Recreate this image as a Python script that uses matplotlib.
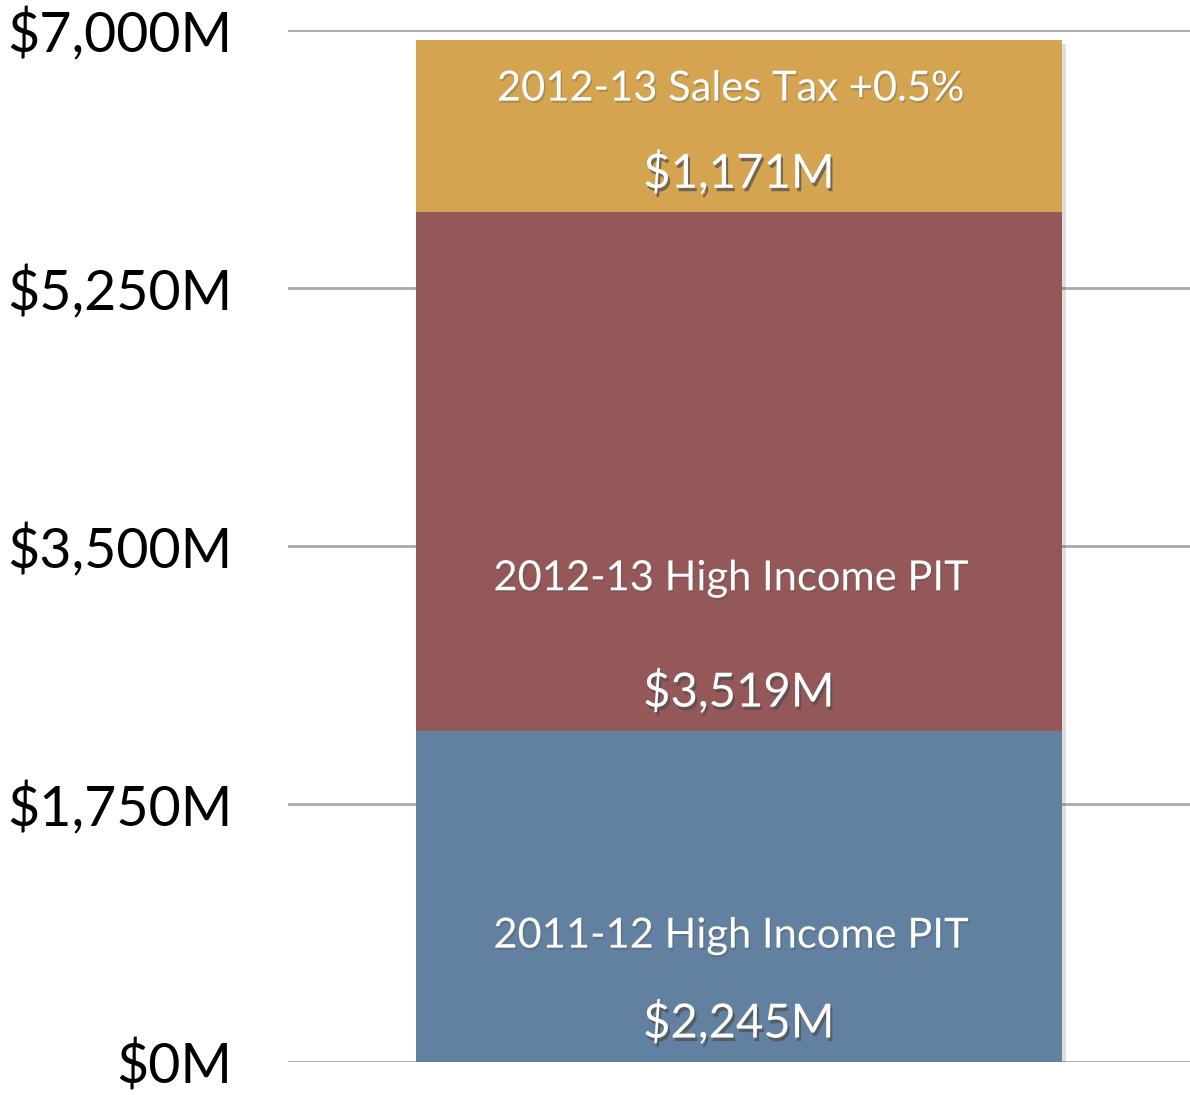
import matplotlib
matplotlib.use("Agg")
import matplotlib.pyplot as plt
import matplotlib.patheffects as pe

# segment data, bottom to top
names = ["2011-12 High Income PIT", "2012-13 High Income PIT", "2012-13 Sales Tax +0.5%"]
values = [2245, 3519, 1171]
colors = ["#62809f", "#955859", "#d4a451"]
yticks = [0, 1750, 3500, 5250, 7000]
ytick_labels = ["$0M", "$1,750M", "$3,500M", "$5,250M", "$7,000M"]

# label offsets above each segment bottom, in points
name_off = [91, 110, 89]
val_off = 28

plt.rcParams["font.family"] = ["Lato", "DejaVu Sans"]

fig = plt.figure(figsize=(11.9, 10.95), dpi=100)
ax = fig.add_axes([0.242, 0.0301, 0.758, 0.9425])

for y in yticks:
    ax.axhline(y, color="#a9a9a9", lw=2, zorder=0)

# one shadow behind the whole stack
ax.bar(0.5, sum(values), width=0.716, color="white", zorder=1,
       path_effects=[pe.SimplePatchShadow(offset=(3, -3), alpha=0.18)])

bottom = 0
for name, v, c, off in zip(names, values, colors, name_off):
    ax.bar(0.5, v, width=0.716, bottom=bottom, color=c, zorder=2)
    ax.annotate(name, (0.5, bottom), xytext=(-6, off), textcoords="offset points",
                ha="center", va="center", color="white", fontsize=30, zorder=5,
                path_effects=[pe.withSimplePatchShadow(offset=(1, -1.5), alpha=0.3)])
    ax.annotate(f"${v:,}M", (0.5, bottom), xytext=(0, val_off), textcoords="offset points",
                ha="center", va="center", color="white", fontsize=34, zorder=5,
                path_effects=[pe.withSimplePatchShadow(offset=(1.5, -2.5), alpha=0.7)])
    bottom += v

ax.set_xlim(0, 1)
ax.set_ylim(0, 7000)
ax.set_yticks(yticks)
ax.set_yticklabels(ytick_labels, fontsize=40)
ax.tick_params(axis="y", length=0, pad=40)
ax.set_xticks([])
for s in ax.spines.values():
    s.set_visible(False)

fig.savefig("out.png", dpi=100, facecolor="white")
